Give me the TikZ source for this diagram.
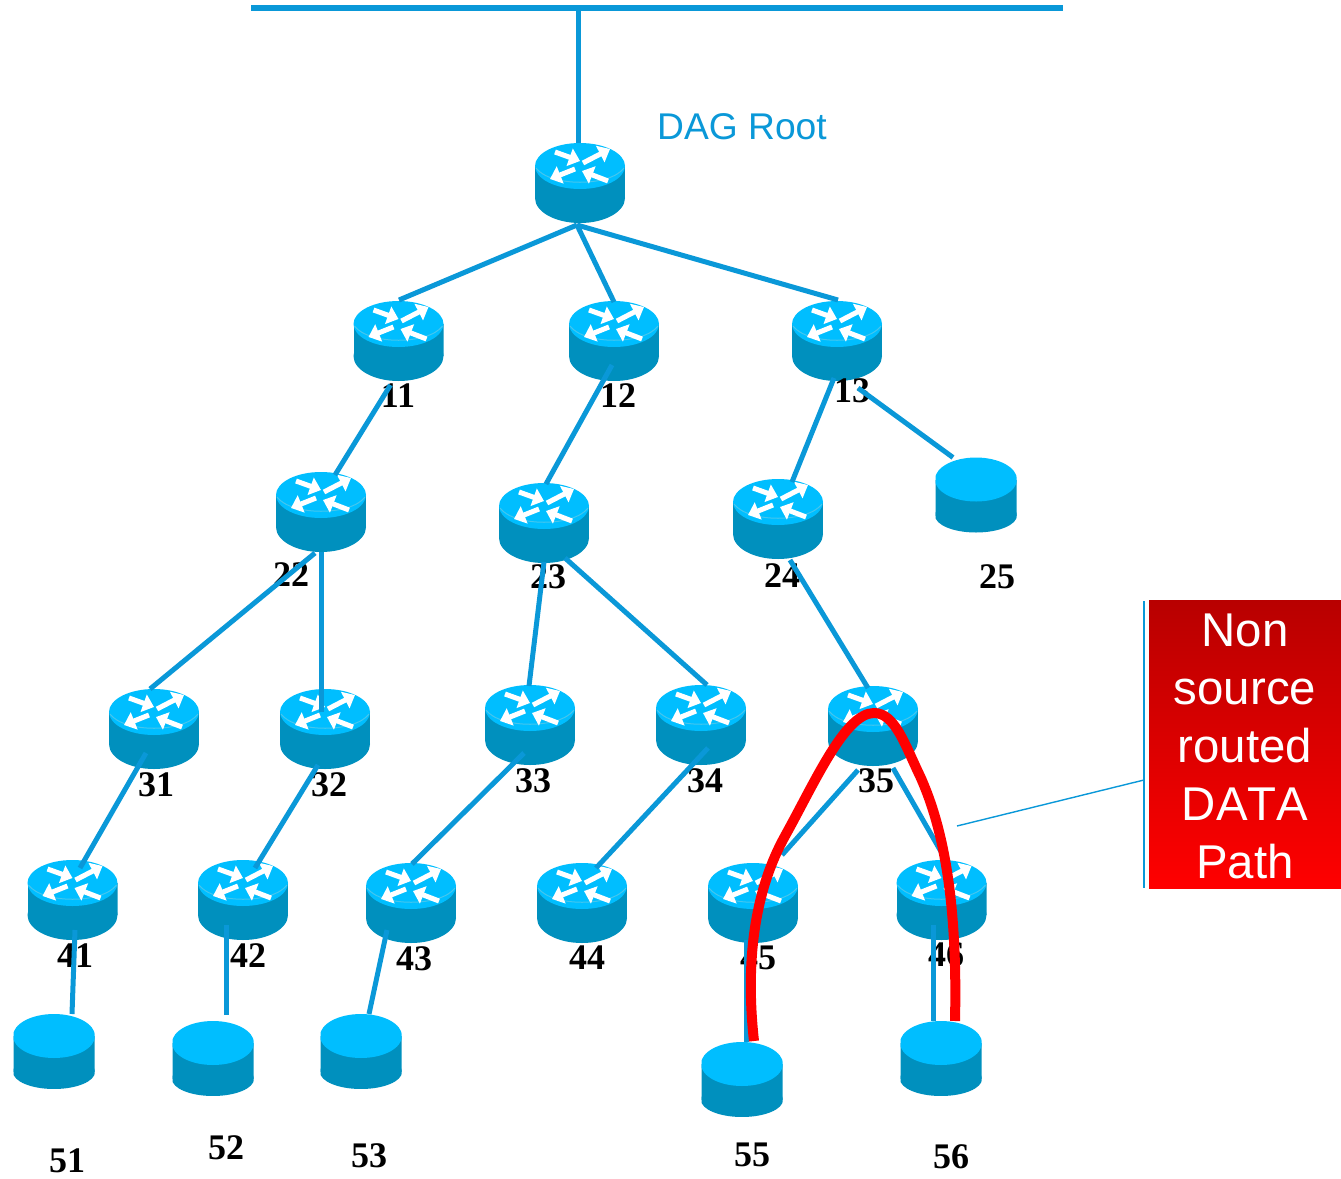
\documentclass[tikz,border=0pt]{standalone}
\usepackage{fontspec}
\setmainfont{Liberation Sans}
\newfontfamily\numfont{Liberation Serif}
\newfontfamily\calloutfont{Liberation Sans}[Kerning=Off]
\usetikzlibrary{arrows.meta}
\definecolor{linkblue}{HTML}{0A98D8}
\definecolor{toptone}{HTML}{00BEFF}
\definecolor{sidetone}{HTML}{0090BE}
\definecolor{rimtone}{HTML}{45C6EE}
\definecolor{darkred}{HTML}{B80000}

\tikzset{
  link/.style = {linkblue, line width=2.5pt},
  datapath/.style = {red, line width=5pt},
  calloutline/.style = {linkblue, line width=0.7pt},
  arrowmark/.style = {white, line width=2.5pt, -{Triangle[length=5.5pt,width=9pt]}},
  router/.style = {minimum width=45pt, minimum height=40pt, inner sep=0pt, path picture={
    \begin{scope}[shift={(path picture bounding box.center)}]
      \fill[sidetone] (-45,-17) rectangle (45,15);
      \fill[sidetone] (0,15) ellipse [x radius=45, y radius=25];
      \fill[toptone] (0,-17) ellipse [x radius=45, y radius=23];
      \draw[rimtone, line width=0.5pt] (-44,-15) .. controls (-30,4) and (30,4) .. (44,-15);
      \draw[arrowmark] (-25,-31) -- (0,-22);
      \draw[arrowmark] (3,-20) -- (30,-34);
      \draw[arrowmark] (-5,-14) -- (-30,-4);
      \draw[arrowmark] (28,-2) -- (2,-12);
    \end{scope}}},
  leaf/.style = {minimum width=40.5pt, minimum height=37.5pt, inner sep=0pt, path picture={
    \begin{scope}[shift={(path picture bounding box.center)}]
      \fill[sidetone] (-41,-15) rectangle (41,21);
      \fill[sidetone] (0,21) ellipse [x radius=41, y radius=17];
      \fill[toptone] (0,-15) ellipse [x radius=41, y radius=22];
    \end{scope}}},
  num/.style = {font=\numfont\bfseries\fontsize{18}{20}\selectfont, inner sep=0pt},
}

\begin{document}
\begin{tikzpicture}[x=0.5pt, y=-0.5pt]
\useasboundingbox (0,0) rectangle (1341,1179);

% routers
\node[router] (root) at (580,183) {};
\node[router] (r11) at (398.5,341) {};
\node[router] (r12) at (614,341) {};
\node[router] (r13) at (837,341) {};
\node[router] (r22) at (321,512) {};
\node[router] (r23) at (544,523) {};
\node[router] (r24) at (778,519) {};
\node[router] (r31) at (154,729) {};
\node[router] (r32) at (325,729) {};
\node[router] (r33) at (530,725) {};
\node[router] (r34) at (701,725) {};
\node[router] (r35) at (873,726) {};
\node[router] (r41) at (72.5,900) {};
\node[router] (r42) at (243,900) {};
\node[router] (r43) at (411,903) {};
\node[router] (r44) at (582,903) {};
\node[router] (r45) at (753,903) {};
\node[router] (r46) at (941.5,900) {};

% leaves
\node[leaf] (l25) at (976,494.5) {};
\node[leaf] (l51) at (54,1051) {};
\node[leaf] (l52) at (213,1058) {};
\node[leaf] (l53) at (361,1051) {};
\node[leaf] (l55) at (742,1079) {};
\node[leaf] (l56) at (941,1058) {};

% numbers
\node[num] (n11) at (398,396) {11};
\node[num] (n12) at (618,396) {12};
\node[num] (n13) at (852,391) {13};
\node[num] (n22) at (291,575) {22};
\node[num] (n23) at (548,577) {23};
\node[num] (n24) at (782,576) {24};
\node[num] (n25) at (997,577) {25};
\node[num] (n31) at (156,785) {31};
\node[num] (n32) at (329,785) {32};
\node[num] (n33) at (533,781) {33};
\node[num] (n34) at (705,781) {34};
\node[num] (n35) at (876,781) {35};
\node[num] (n41) at (75,956) {41};
\node[num] (n42) at (248,956) {42};
\node[num] (n43) at (414,959) {43};
\node[num] (n44) at (587,958) {44};
\node[num] (n45) at (758,958) {45};
\node[num] (n46) at (946,955) {46};
\node[num] (n51) at (67,1161) {51};
\node[num] (n52) at (226,1148) {52};
\node[num] (n53) at (369,1156) {53};
\node[num] (n55) at (752,1155) {55};
\node[num] (n56) at (951,1157) {56};

\node[text=linkblue, font=\fontsize{18.6}{22}\selectfont, inner sep=0pt] (dagroot) at (742,127) {DAG Root};

% backbone
\coordinate (busleft) at (251,8);
\coordinate (busright) at (1063,8);
\coordinate (bustap) at (578,8);
\draw[link, line width=3pt] (busleft) -- (busright);
\draw[link] (bustap) -- ([shift={(-2,-40)}]root.center);

% links
\draw[link] ([shift={(-3,42)}]root.center) -- ([shift={(0.5,-41)}]r11.center);
\draw[link] ([shift={(-3,42)}]root.center) -- ([shift={(0,-39)}]r12.center);
\draw[link] ([shift={(-3,42)}]root.center) -- ([shift={(1,-41)}]r13.center);
\draw[link] ([shift={(-8,44)}]r11.center) -- ([shift={(14,-37)}]r22.center);
\draw[link] ([shift={(-2,24)}]r12.center) -- ([shift={(2,-39)}]r23.center);
\draw[link] ([shift={(-3,37)}]r13.center) -- ([shift={(14,-37)}]r24.center);
\draw[link] ([shift={(21,47)}]r13.center) -- ([shift={(-23,-37)}]l25.center);
\draw[link] ([shift={(-6,41)}]r22.center) -- ([shift={(-4,-40)}]r31.center);
\draw[link] ([shift={(0,40)}]r22.center) -- ([shift={(-4,-17)}]r32.center);
\draw[link] ([shift={(0,39)}]r23.center) -- ([shift={(-1,-39)}]r33.center);
\draw[link] ([shift={(21,35)}]r23.center) -- ([shift={(6,-40)}]r34.center);
\draw[link] ([shift={(12,41)}]r24.center) -- ([shift={(-5,-38)}]r35.center);
\draw[link] ([shift={(-8,24)}]r31.center) -- ([shift={(7.5,-32)}]r41.center);
\draw[link] ([shift={(-7,36)}]r32.center) -- ([shift={(12,-32)}]r42.center);
\draw[link] ([shift={(-6,28)}]r33.center) -- ([shift={(1,-39)}]r43.center);
\draw[link] ([shift={(7,23)}]r34.center) -- ([shift={(14,-35)}]r44.center);
\draw[link] ([shift={(-15,44)}]r35.center) -- ([shift={(29,-48)}]r45.center);
\draw[link] ([shift={(20,42)}]r35.center) -- ([shift={(1.5,-45)}]r46.center);
\draw[link] ([shift={(2.5,30)}]r41.center) -- ([shift={(18,-37)}]l51.center);
\draw[link] ([shift={(-17,25)}]r42.center) -- ([shift={(13,-43)}]l52.center);
\draw[link] ([shift={(-24,27)}]r43.center) -- ([shift={(8,-37)}]l53.center);
\draw[link] ([shift={(-7,37)}]r45.center) -- ([shift={(4,-37)}]l55.center);
\draw[link] ([shift={(-8.5,25)}]r46.center) -- ([shift={(-8,-37)}]l56.center);

% data path
\draw[datapath] ([shift={(12,-38)}]l55.center) .. controls (745,960) and (755,890) .. (785,836)
  .. controls (815,782) and (845,713) .. ([shift={(1,-13)}]r35.center)
  .. controls (895,713) and (905,745) .. (920,776)
  .. controls (940,820) and (958,890) .. ([shift={(14,-37)}]l56.center);

% callout
\node[top color=darkred, bottom color=red, text=white, minimum width=96pt, minimum height=144pt, inner sep=0pt, align=center, font=\calloutfont\fontsize{23.7}{29}\selectfont] (callout) at (1245,744) {\rule{0pt}{19pt}Non\\source\\routed\\DATA\\Path};
\coordinate (bartop) at (1144,601);
\coordinate (barbottom) at (1144,888);
\coordinate (barmid) at (1144,780);
\coordinate (pathmark) at (957,826);
\draw[calloutline] (bartop) -- (barbottom);
\draw[calloutline] (barmid) -- (pathmark);
\end{tikzpicture}
\end{document}
